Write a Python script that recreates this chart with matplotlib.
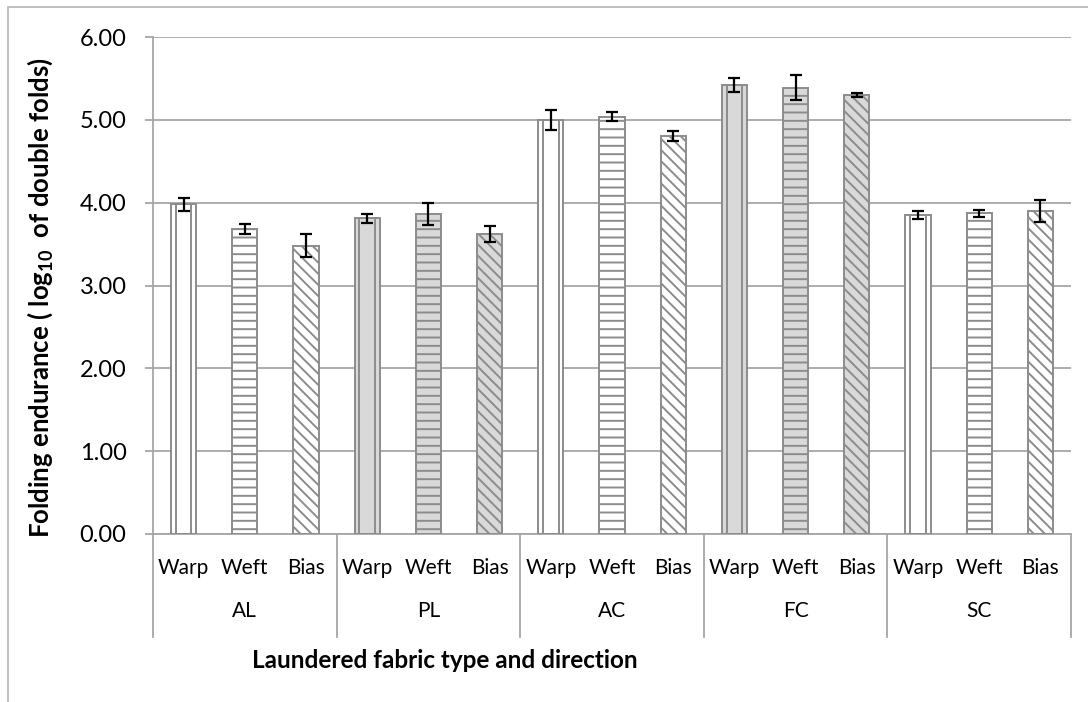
import matplotlib.pyplot as plt
import numpy as np
from matplotlib.transforms import blended_transform_factory
from matplotlib.patches import Rectangle

# ------------------ DATA ------------------ #
fabrics = ["AL", "PL", "AC", "FC", "SC"]
directions = ["Warp", "Weft", "Bias"]
means = [3.98, 3.68, 3.48,
         3.81, 3.86, 3.62,
         5.00, 5.04, 4.81,
         5.42, 5.39, 5.30,
         3.85, 3.87, 3.90]
errors = [0.08, 0.06, 0.14,
          0.05, 0.13, 0.10,
          0.12, 0.05, 0.06,
          0.09, 0.15, 0.02,
          0.05, 0.04, 0.13]
shaded_fabrics = ["PL", "FC"]

# ------------------ STYLE ------------------ #
plt.rcParams['font.family'] = ['Lato', 'DejaVu Sans']
plt.rcParams['mathtext.default'] = 'regular'
plt.rcParams['hatch.linewidth'] = 1.4
edge = '#8c8c8c'
grid = '#a6a6a6'
hatches = {"Warp": "", "Weft": "--", "Bias": "\\\\\\"}

fig = plt.figure(figsize=(10.88, 7.02), dpi=100)
# outer chart border (only top and left visible)
fig.patches.append(Rectangle((8 / 1088, -0.2), 1.2, 1.2 - 7 / 702,
                             transform=fig.transFigure, fill=False,
                             edgecolor='#b4b4b4', linewidth=1.2))

ax = fig.add_axes([153 / 1088, 1 - 534 / 702, (1071 - 153) / 1088, (534 - 37) / 702])

x = np.arange(len(fabrics) * len(directions))
labels = [d for f in fabrics for d in directions]
bar_w = 0.41
for i, (m, e) in enumerate(zip(means, errors)):
    fab = fabrics[i // 3]
    d = directions[i % 3]
    color = '#d9d9d9' if fab in shaded_fabrics else 'white'
    ax.bar(x[i], m, width=bar_w, color=color, edgecolor=edge, linewidth=1.4,
           hatch=hatches[d], zorder=3)
    if d == "Warp":
        # two inner vertical lines of the warp pattern
        ax.bar(x[i], m, width=bar_w * 0.62, fill=False, edgecolor=edge,
               linewidth=1.4, zorder=3)
    ax.errorbar(x[i], m, yerr=e, fmt='none', ecolor='black', elinewidth=1.6,
                capsize=4.5, capthick=1.6, zorder=4)

ax.set_xlim(-0.5, len(x) - 0.5)
ax.set_ylim(0, 6)
ax.set_yticks(np.arange(0, 6.01, 1))
ax.set_yticklabels([f"{v:.2f}" for v in np.arange(0, 6.01, 1)], fontsize=17)
ax.yaxis.grid(True, color=grid, linewidth=1.3, zorder=0)
ax.set_axisbelow(True)

ax.set_xticks(x)
ax.set_xticklabels(labels, fontsize=15)
ax.tick_params(axis='x', length=0, pad=17)
ax.tick_params(axis='y', length=6, color=grid, width=1.3, pad=13)

for s in ['top', 'right']:
    ax.spines[s].set_visible(False)
for s in ['left', 'bottom']:
    ax.spines[s].set_color(grid)
    ax.spines[s].set_linewidth(1.3)

# multi-level category axis
trans = blended_transform_factory(ax.transData, ax.transAxes)
bounds = np.arange(0, len(x) + 1, 3) - 0.5
for b in bounds:
    ax.plot([b, b], [0, -0.208], transform=trans, color=grid, linewidth=1.3,
            clip_on=False)
for k, fab in enumerate(fabrics):
    ax.text(3 * k + 1, -0.155, fab, transform=trans, ha='center', va='center',
            fontsize=15)

fig.text(445 / 1088, 1 - 660 / 702, "Laundered fabric type and direction",
         ha='center', va='center', fontsize=17.5, fontweight='bold')
fig.text(40 / 1088, 1 - 298 / 702, "Folding endurance ( log$_{10}$  of double folds)",
         rotation=90, ha='center', va='center', fontsize=18.5, fontweight='bold')

fig.savefig("out.png", dpi=100)
